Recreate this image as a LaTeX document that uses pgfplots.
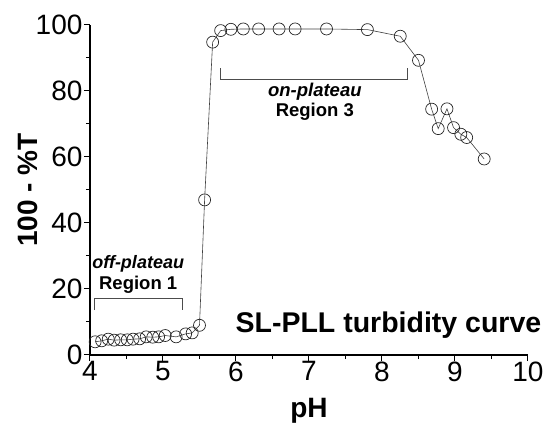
\documentclass[border=0pt]{standalone}
\usepackage{pgfplots}
\pgfplotsset{compat=1.18}
\usepackage{fontspec}
\setmainfont{Liberation Sans}
\begin{document}
\begin{tikzpicture}
\path[use as bounding box] (-90pt,-68pt) rectangle (462pt,355pt);
\begin{axis}[
  scale only axis,
  width=438pt, height=330pt,
  xmin=4, xmax=10, ymin=0, ymax=100,
  axis x line=bottom, axis y line=left,
  axis line style={-, line width=1.3pt, black},
  xtick={4,5,...,10}, ytick={0,20,...,100},
  minor x tick num=1, minor y tick num=1,
  tick align=outside,
  major tick length=6pt, minor tick length=4pt,
  tick style={line width=1pt, black},
  /pgf/number format/assume math mode=true,
  ticklabel style={font=\fontsize{28}{32}\selectfont},
  xticklabel style={yshift=3pt},
  yticklabel style={xshift=2pt},
  xlabel={\textbf{pH}}, ylabel={\textbf{100 - \%T}},
  label style={font=\fontsize{28}{32}\selectfont},
  xlabel style={yshift=-10pt},
  ylabel style={yshift=-9pt},
  clip=false,
]
\addplot[color=black!75, line width=0.6pt, mark=o, mark size=6pt,
  mark options={solid, draw=black!85, fill=white, line width=0.7pt}]
  table {
4.07 4.0
4.16 4.3
4.25 4.8
4.33 4.5
4.42 4.6
4.51 4.6
4.59 4.8
4.68 4.9
4.77 5.5
4.86 5.4
4.94 5.5
5.03 5.9
5.18 5.5
5.31 6.4
5.40 6.7
5.50 9.0
5.57 47.0
5.68 94.8
5.79 98.3
5.93 98.7
6.10 98.8
6.31 98.8
6.59 98.8
6.81 98.8
7.24 98.8
7.80 98.6
8.25 96.6
8.50 89.3
8.68 74.5
8.77 68.6
8.89 74.6
8.98 68.9
9.08 66.9
9.16 65.9
9.40 59.4
};
% brackets
\draw[black!70, line width=0.8pt] (axis cs:4.06,13.6) -- (axis cs:4.06,17.2) -- (axis cs:5.26,17.2) -- (axis cs:5.26,13.6);
\draw[black!70, line width=0.8pt] (axis cs:5.79,86.9) -- (axis cs:5.79,83.5) -- (axis cs:8.35,83.5) -- (axis cs:8.35,86.9);
\node[font=\fontsize{18}{22}\selectfont\bfseries\itshape] at (axis cs:4.66,27.6) {off-plateau};
\node[font=\fontsize{18.5}{22}\selectfont\bfseries] at (axis cs:4.66,21.2) {Region 1};
\node[font=\fontsize{18.5}{22}\selectfont\bfseries\itshape] at (axis cs:7.08,79.8) {on-plateau};
\node[font=\fontsize{18.5}{22}\selectfont\bfseries] at (axis cs:7.08,73.7) {Region 3};
\node[font=\fontsize{28.5}{32}\selectfont\bfseries, anchor=base east] at (axis cs:10.23,6.7) {SL-PLL turbidity curve};
\end{axis}
\end{tikzpicture}
\end{document}
